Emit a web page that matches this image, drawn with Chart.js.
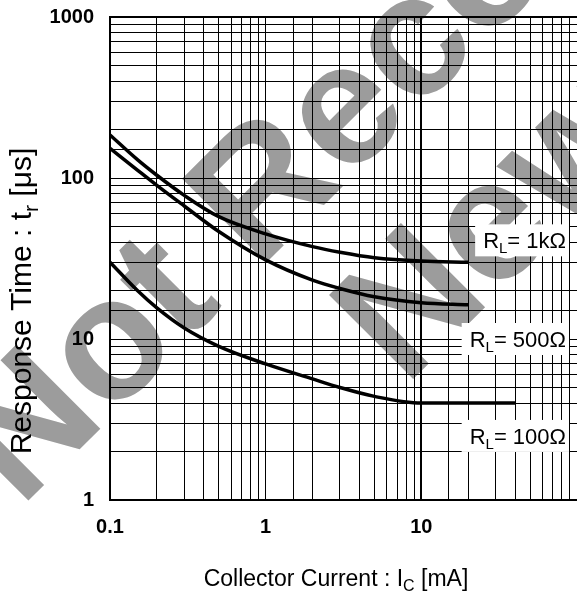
<!DOCTYPE html>
<html>
<head>
<meta charset="utf-8">
<script src="https://cdn.jsdelivr.net/npm/chart.js@4/dist/chart.umd.min.js"></script>
<style>
    html, body { margin: 0; padding: 0; background: #fff; }
    canvas { display: block; }
</style>
</head>
<body>
<canvas id="responseChart" width="577" height="591"></canvas>
<script>
// values
const current1k = [0.1, 0.15, 0.2, 0.3, 0.5, 1, 2, 3, 5, 10, 20];
const time1k = [185, 130, 104, 78, 57.5, 45, 37.5, 34.6, 32, 30.5, 30];
const current500 = [0.1, 0.15, 0.2, 0.3, 0.5, 1, 2, 3, 5, 10, 20];
const time500 = [153, 112, 90, 67, 46.5, 31, 23.2, 20.6, 18.3, 16.8, 16.3];
const current100 = [0.1, 0.15, 0.2, 0.3, 0.5, 1, 2, 3, 5, 10, 20, 40];
const time100 = [30, 20, 15.6, 11.7, 9.0, 7.0, 5.65, 5.0, 4.4, 4.0, 4.0, 4.0];

const xTickLabels = ['0.1', '1', '10'];
const yTickLabels = ['1', '10', '100', '1000'];
const curveLabels = [
    [{ t: 'R' }, { t: 'L', sub: true }, { t: '= 1kΩ' }],
    [{ t: 'R' }, { t: 'L', sub: true }, { t: '= 500Ω' }],
    [{ t: 'R' }, { t: 'L', sub: true }, { t: '= 100Ω' }]
];
const xTitle = [{ t: 'Collector Current : I' }, { t: 'C', sub: true }, { t: ' [mA]' }];
const yTitle = [{ t: 'Response Time : t' }, { t: 'r', sub: true }, { t: ' [μs]' }];
const watermark = ['Not Recommended for', 'New Designs'];

const FONT = '"Liberation Sans", Arial, sans-serif';

function toPoints(xs, ys) {
    return xs.map((x, i) => ({ x: x, y: ys[i] }));
}

function isDecade(v) {
    const l = Math.log10(v);
    return Math.abs(l - Math.round(l)) < 1e-6;
}

// text with subscript parts
function richWidth(ctx, parts, size) {
    let w = 0;
    parts.forEach(p => {
        ctx.font = (p.sub ? Math.round(size * 0.7) : size) + 'px ' + FONT;
        w += ctx.measureText(p.t).width;
    });
    return w;
}

function drawRich(ctx, parts, x, y, size, align) {
    const w = richWidth(ctx, parts, size);
    let cx = x;
    if (align === 'center') cx = x - w / 2;
    if (align === 'right') cx = x - w;
    ctx.textAlign = 'left';
    ctx.textBaseline = 'alphabetic';
    parts.forEach(p => {
        const s = p.sub ? Math.round(size * 0.7) : size;
        ctx.font = s + 'px ' + FONT;
        ctx.fillText(p.t, cx, y + (p.sub ? size * 0.22 : 0));
        cx += ctx.measureText(p.t).width;
    });
    return w;
}

function noPadding(s) {
    s.paddingTop = 0;
    s.paddingBottom = 0;
    s.paddingLeft = 0;
    s.paddingRight = 0;
}

const sheetPlugin = {
    id: 'sheet',
    beforeDraw(chart) {
        const ctx = chart.ctx;
        ctx.save();
        ctx.fillStyle = '#fff';
        ctx.fillRect(0, 0, chart.width, chart.height);
        // grey watermark across the sheet
        ctx.fillStyle = '#9c9c9c';
        ctx.font = 'bold 173px ' + FONT;
        ctx.translate(-8, 523);
        ctx.rotate(-Math.PI / 4);
        ctx.textAlign = 'left';
        ctx.textBaseline = 'alphabetic';
        ctx.fillText(watermark[0], 30, 10);
        ctx.fillText(watermark[1], 388, 196);
        ctx.restore();
    },
    afterDatasetsDraw(chart) {
        const ctx = chart.ctx;
        const xs = chart.scales.x;
        const ys = chart.scales.y;
        const labelAt = [41, 10, 2.5];
        ctx.save();
        curveLabels.forEach((parts, i) => {
            const right = xs.getPixelForValue(85);
            const mid = ys.getPixelForValue(labelAt[i]);
            const w = richWidth(ctx, parts, 22);
            ctx.fillStyle = '#fff';
            ctx.fillRect(right - w - 8, mid - 16, w + 11, 32);
            ctx.fillStyle = '#000';
            drawRich(ctx, parts, right, mid + 8, 22, 'right');
        });
        ctx.restore();
    },
    afterDraw(chart) {
        const ctx = chart.ctx;
        ctx.save();
        ctx.fillStyle = '#000';
        drawRich(ctx, xTitle, 336, 586, 23, 'center');
        ctx.translate(31, 301);
        ctx.rotate(-Math.PI / 2);
        drawRich(ctx, yTitle, 0, 0, 30, 'center');
        ctx.restore();
    }
};

new Chart(document.getElementById('responseChart'), {
    type: 'line',
    data: {
        datasets: [
            { data: toPoints(current1k, time1k) },
            { data: toPoints(current500, time500) },
            { data: toPoints(current100, time100) }
        ].map(d => Object.assign(d, {
            borderColor: '#000',
            borderWidth: 3.5,
            pointRadius: 0,
            fill: false,
            cubicInterpolationMode: 'monotone'
        }))
    },
    options: {
        responsive: false,
        animation: false,
        devicePixelRatio: 1,
        layout: { autoPadding: false, padding: { top: 17, right: 0, left: 0, bottom: 0 } },
        plugins: {
            legend: { display: false },
            tooltip: { enabled: false }
        },
        scales: {
            x: {
                type: 'logarithmic',
                min: 0.1,
                max: 100,
                afterFit: s => { s.height = 91; noPadding(s); },
                border: { display: true, color: '#000', width: 2 },
                grid: {
                    color: '#000',
                    drawTicks: false,
                    lineWidth: c => (c.tick && Math.abs(c.tick.value - 10) < 1e-6 ? 2 : 1)
                },
                ticks: {
                    autoSkip: false,
                    maxRotation: 0,
                    padding: 15,
                    color: '#000',
                    font: { family: FONT, size: 20, weight: 'bold' },
                    callback: v => {
                        if (!isDecade(v)) return '';
                        const s = v < 1 ? v.toFixed(1) : String(Math.round(v));
                        return xTickLabels.includes(s) ? s : '';
                    }
                }
            },
            y: {
                type: 'logarithmic',
                min: 1,
                max: 1000,
                afterFit: s => { s.width = 110; noPadding(s); },
                border: { display: true, color: '#000', width: 2 },
                grid: {
                    color: '#000',
                    drawTicks: false,
                    lineWidth: c => (c.tick && Math.abs(c.tick.value - 1000) < 1e-6 ? 2 : 1)
                },
                ticks: {
                    autoSkip: false,
                    padding: 16,
                    color: '#000',
                    font: { family: FONT, size: 20, weight: 'bold' },
                    callback: v => {
                        if (!isDecade(v)) return '';
                        const s = String(Math.round(v));
                        return yTickLabels.includes(s) ? s : '';
                    }
                }
            }
        }
    },
    plugins: [sheetPlugin]
});
</script>
</body>
</html>
